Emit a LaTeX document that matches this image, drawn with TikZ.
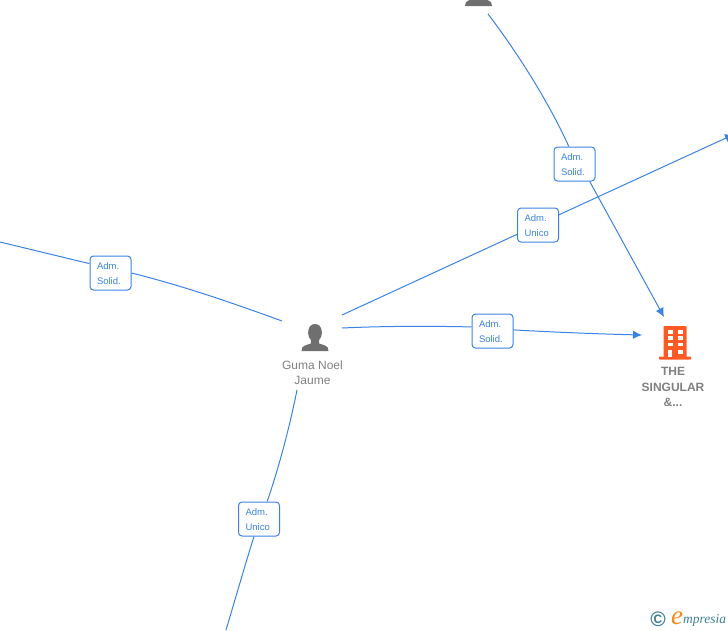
\documentclass[tikz,border=0pt]{standalone}
\usepackage{fontspec}
\setmainfont{Liberation Sans}
\newfontfamily\logofont{Liberation Serif}
\usetikzlibrary{arrows.meta}
\definecolor{linkblue}{HTML}{3B82E6}
\definecolor{icongray}{HTML}{6F6F6F}
\definecolor{textgray}{HTML}{808080}
\definecolor{bldorange}{HTML}{FF5A26}
\definecolor{logoteal}{HTML}{3F7F96}
\definecolor{logoorange}{HTML}{F08A1D}
\newcommand{\relline}[1]{\raisebox{-1pt}[7pt][2pt]{#1}}
\tikzset{
  x=1pt,y=-1pt,
  link/.style={draw=linkblue,line width=1pt},
  tip/.style={-{Latex[length=9pt,width=8.5pt]}},
  relbox/.style={draw=linkblue,line width=1pt,fill=white,rounded corners=3.5pt,minimum width=41pt,minimum height=34pt,inner sep=0pt,text width=27pt,align=left,text=linkblue,font=\fontsize{9.5pt}{15pt}\selectfont},
  personname/.style={text=textgray,align=center,font=\fontsize{12pt}{15pt}\selectfont,inner sep=0pt},
  companyname/.style={text=textgray,align=center,font=\fontsize{12pt}{15.5pt}\selectfont\bfseries,inner sep=0pt},
  person/.pic={
    \fill[icongray] (0,-13) .. controls (-8,-13) and (-8.5,-1) .. (-4,3)
      .. controls (-3.6,5) and (-3.6,5.5) .. (-4.2,6.5)
      .. controls (-9,8.5) and (-13.5,8) .. (-13.5,14) -- (13.5,14)
      .. controls (13.5,8) and (9,8.5) .. (4.2,6.5)
      .. controls (3.6,5.5) and (3.6,5) .. (4,3)
      .. controls (8.5,-1) and (8,-13) .. (0,-13) -- cycle;
  }
}
\begin{document}
\begin{tikzpicture}
\useasboundingbox (0,0) rectangle (728,630);
\clip (0,0) rectangle (728,630);
% free ends
\coordinate (topstart) at (488,14);
\coordinate (rightend) at (734,134.3);
\coordinate (leftend) at (0,242);
\coordinate (bottomend) at (226,630);
\coordinate (gumaNE) at (342,315);
\coordinate (gumaE) at (342,328);
\coordinate (gumaW) at (282,321);
\coordinate (gumaS) at (297,390);
\coordinate (targetW) at (642,335);
\coordinate (targetN) at (664,317);
% label boxes
\node[relbox] (bsolidtop) at (574.5,164) {\relline{Adm.}\\\relline{Solid.}};
\node[relbox] (bunicotop) at (538,225) {\relline{Adm.}\\\relline{Unico}};
\node[relbox] (bsolidleft) at (110.5,273) {\relline{Adm.}\\\relline{Solid.}};
\node[relbox] (bsolidmid) at (492.5,331) {\relline{Adm.}\\\relline{Solid.}};
\node[relbox] (bunicolow) at (259,519) {\relline{Adm.}\\\relline{Unico}};
% connectors
\draw[link] (topstart) .. controls (520,56) and (550,105) .. (bsolidtop.108);
\draw[link,tip] (bsolidtop.-49.5) -- (targetN);
\draw[link] (gumaNE) -- (bunicotop.-156);
\draw[link,tip] (bunicotop.26) -- (rightend);
\draw[link] (gumaE) .. controls (385,326) and (430,326) .. (bsolidmid.169);
\draw[link,tip] (bsolidmid.3) .. controls (550,332) and (600,334) .. (targetW);
\draw[link] (gumaW) .. controls (230,302) and (180,285) .. (bsolidleft.0);
\draw[link] (bsolidleft.156) -- (leftend);
\draw[link] (gumaS) .. controls (289,430) and (278,470) .. (bunicolow.65);
\draw[link] (bunicolow.-106) .. controls (245,565) and (235,600) .. (bottomend);
% people
\path (315,337) pic {person};
\path (478.5,-8) pic {person};
\node[personname] (guma) at (312.5,372.5) {Guma Noel\\Jaume};
% company
\fill[bldorange,rounded corners=0.8pt] (663.5,326) rectangle (686.5,358);
\fill[bldorange,rounded corners=0.6pt] (659,356.5) rectangle (691,359.5);
\foreach \yy in {330,336,342.5}{
  \fill[white] (667.5,\yy) rectangle (672.5,\yy+3.8);
  \fill[white] (678,\yy) rectangle (683,\yy+3.8);
}
\fill[white] (668,349.5) rectangle (672,357);
\fill[white] (678,349.5) rectangle (683,353.5);
\node[companyname] (singular) at (673,387) {THE\\SINGULAR\\\&...};
% logo
\node[inner sep=0pt,text=logoteal,font=\fontsize{21pt}{21pt}\selectfont\bfseries] (copyr) at (658,619) {©};
\node[anchor=base west,inner sep=0pt,text=logoorange,font=\logofont\itshape\fontsize{27pt}{27pt}\selectfont] (logoe) at (671,624) {e};
\node[anchor=base west,inner sep=0pt,text=logoteal,font=\logofont\itshape\fontsize{13.5pt}{13.5pt}\selectfont] (logorest) at (683,623) {mpresia};
\end{tikzpicture}
\end{document}
